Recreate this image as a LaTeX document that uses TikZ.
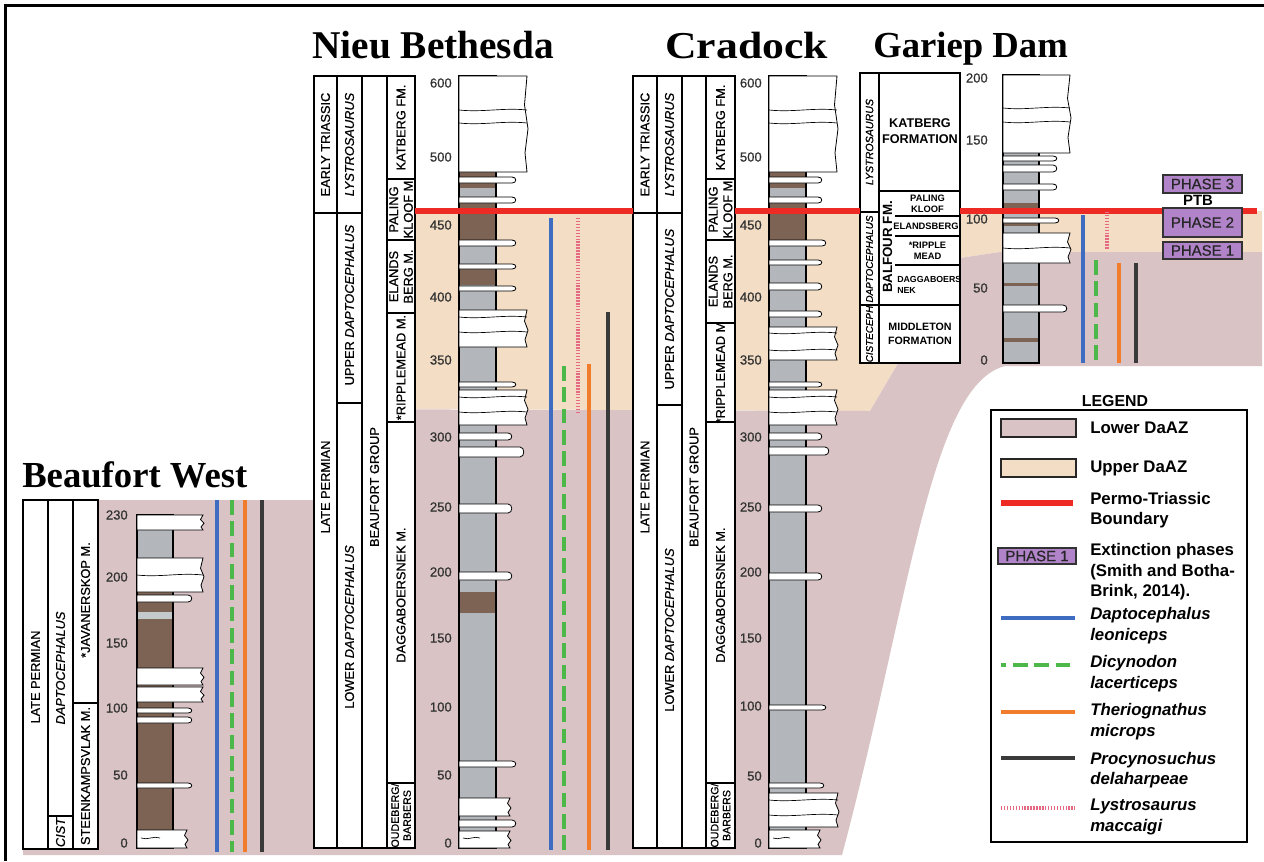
\documentclass[tikz,border=0pt]{standalone}
\usepackage{fontspec}
\setmainfont{Liberation Serif}
\setsansfont{Liberation Sans}
\newfontfamily\labsans{Liberation Sans}[FakeBold=0.8]
\definecolor{lowpink}{HTML}{D9C3C5}
\definecolor{uptan}{HTML}{F3DDC5}
\definecolor{mud}{HTML}{7D6353}
\definecolor{silt}{HTML}{B3B7BB}
\definecolor{lsilt}{HTML}{C4CACC}
\definecolor{ptbred}{HTML}{EE2A24}
\definecolor{tblue}{HTML}{3D6CC0}
\definecolor{tgreen}{HTML}{4DB84A}
\definecolor{torange}{HTML}{F07C2C}
\definecolor{tdark}{HTML}{3A3A3A}
\definecolor{tpink}{HTML}{E36A82}
\definecolor{phase}{HTML}{B184C9}
\newcommand{\thinbed}[4]{\draw[bed] (#1,#2) -- ({#4-5},#2) .. controls (#4,#2) and (#4,#3) .. ({#4-5},#3) -- (#1,#3) -- cycle;}
\newcommand{\thickbed}[4]{\draw[bed] (#1,#2) -- (#4,#2) -- ({#4-2.5},{#2+0.3*(#3-#2)}) -- ({#4+1},{#2+0.55*(#3-#2)}) -- ({#4-2},{#2+0.8*(#3-#2)}) -- (#4,#3) -- (#1,#3) -- cycle;}
\newcommand{\seam}[3]{\draw[seamline] (#1,#3) .. controls ({#1+0.35*(#2-#1)},{#3+2.5}) and ({#1+0.65*(#2-#1)},{#3-2.5}) .. (#2,#3);}
\tikzset{
 lbox/.style={draw=black, line width=0.9pt, fill=white},
 lab/.style={rotate=90, font=\labsans\fontsize{9.6}{11}\selectfont, align=center, inner sep=0pt},
 smlab/.style={lab, font=\labsans\fontsize{8}{9}\selectfont},
 glab/.style={rotate=90, font=\labsans\itshape\fontsize{7.4}{8}\selectfont, inner sep=0pt},
 gbold/.style={font=\sffamily\bfseries\fontsize{7}{8.3}\selectfont, align=center, inner sep=0pt},
 num/.style={anchor=east, font=\labsans\fontsize{9.8}{10}\selectfont, text=black!80, inner sep=0pt},
 ttl/.style={font=\rmfamily\bfseries\fontsize{28.5}{30}\selectfont, inner sep=0pt, anchor=base west},
 logcol/.style={fill=silt, draw=black, line width=0.9pt},
 bed/.style={fill=white, draw=black, line width=0.6pt},
 seamline/.style={draw=black, line width=0.5pt},
 taxa/.style={line width=2.6pt},
 dap/.style={taxa, tblue},
 dic/.style={taxa, tgreen, dash pattern=on 11pt off 5pt},
 the/.style={taxa, torange},
 pro/.style={taxa, tdark},
 lys/.style={line width=2.4pt, tpink, dash pattern=on 1.1pt off 1.1pt},
 ptb/.style={ptbred, line width=3.8pt},
 phasebox/.style={draw=black!80, fill=phase, line width=0.9pt, font=\labsans\fontsize{11.2}{12}\selectfont, inner sep=0pt, text=black!85},
 legtxt/.style={anchor=west, align=left, font=\sffamily\bfseries\fontsize{12.6}{15.4}\selectfont, inner sep=0pt},
}
\begin{document}
\begin{tikzpicture}[x=0.75pt,y=-0.75pt]
\useasboundingbox (0,0) rectangle (1264,861);
% ---------- zone bands ----------
\fill[uptan] (415,211) -- (1262,211) -- (1262,252) -- (1000,252) -- (960,258) -- (870,411) -- (415,409) -- cycle;
\fill[lowpink] (23,500) -- (313,500) -- (313,409) -- (870,411) -- (960,258) -- (1000,252) -- (1262,252) -- (1262,366) -- (1005,366) .. controls (930,385) and (910,600) .. (842,855) -- (23,855) -- cycle;
% ---------- Beaufort West labels ----------
\draw[lbox] (23,500) rectangle (48,849);
\draw[lbox] (48,500) rectangle (73,816);
\draw[lbox] (48,816) rectangle (73,849);
\draw[lbox] (73,500) rectangle (98,703);
\draw[lbox] (73,703) rectangle (98,849);
\node[lab] (bwA) at (35.5,677) {LATE PERMIAN};
\node[lab] (bwB) at (60.5,668) {\itshape DAPTOCEPHALUS};
\node[lab] (bwC) at (60.5,832.5) {\itshape CIST};
\node[lab] (bwD) at (85.5,600) {*JAVANERSKOP M.};
\node[lab] (bwE) at (85.5,776) {STEENKAMPSVLAK M.};
% ---------- Nieu Bethesda labels ----------
\draw[lbox] (314,76) rectangle (337,213);
\draw[lbox] (314,213) rectangle (337,848);
\draw[lbox] (337,76) rectangle (362,213);
\draw[lbox] (337,213) rectangle (362,403);
\draw[lbox] (337,403) rectangle (362,848);
\draw[lbox] (362,76) rectangle (387,848);
\draw[lbox] (387,76) rectangle (415,179);
\draw[lbox] (387,179) rectangle (415,240);
\draw[lbox] (387,240) rectangle (415,313);
\draw[lbox] (387,313) rectangle (415,422);
\draw[lbox] (387,422) rectangle (415,783);
\draw[lbox] (387,783) rectangle (415,848);
\node[lab] (nbA) at (325.5,144.5) {EARLY TRIASSIC};
\node[lab] (nbB) at (325.5,487) {LATE PERMIAN};
\node[lab] (nbC) at (349.5,144.5) {\itshape LYSTROSAURUS};
\node[lab] (nbD) at (349.5,305) {UPPER \textit{DAPTOCEPHALUS}};
\node[lab] (nbE) at (349.5,627) {LOWER \textit{DAPTOCEPHALUS}};
\node[lab] (nbF) at (374.5,487) {BEAUFORT GROUP};
\node[lab] (nbG) at (401,127.5) {KATBERG FM.};
\node[lab] (nbH) at (401,209.5) {PALING\\KLOOF M};
\node[lab] (nbI) at (401,276.5) {ELANDS\\BERG M.};
\node[lab] (nbJ) at (401,367.5) {*RIPPLEMEAD M.};
\node[lab] (nbK) at (401,595) {DAGGABOERSNEK M.};
\node[smlab] (nbL) at (401,815.5) {OUDEBERG/\\BARBERS};
% ---------- Cradock labels ----------
\draw[lbox] (633,76) rectangle (657,213);
\draw[lbox] (633,213) rectangle (657,848);
\draw[lbox] (657,76) rectangle (682,213);
\draw[lbox] (657,213) rectangle (682,405);
\draw[lbox] (657,405) rectangle (682,848);
\draw[lbox] (682,76) rectangle (706,848);
\draw[lbox] (706,76) rectangle (735,179);
\draw[lbox] (706,179) rectangle (735,240);
\draw[lbox] (706,240) rectangle (735,323);
\draw[lbox] (706,323) rectangle (735,422);
\draw[lbox] (706,422) rectangle (735,783);
\draw[lbox] (706,783) rectangle (735,848);
\node[lab] (crA) at (645,144.5) {EARLY TRIASSIC};
\node[lab] (crB) at (645,487) {LATE PERMIAN};
\node[lab] (crC) at (669.5,144.5) {\itshape LYSTROSAURUS};
\node[lab] (crD) at (669.5,309) {UPPER \textit{DAPTOCEPHALUS}};
\node[lab] (crE) at (669.5,630) {LOWER \textit{DAPTOCEPHALUS}};
\node[lab] (crF) at (694,487) {BEAUFORT GROUP};
\node[lab] (crG) at (720.5,127.5) {KATBERG FM.};
\node[lab] (crH) at (720.5,209.5) {PALING\\KLOOF M};
\node[lab] (crI) at (720.5,281.5) {ELANDS\\BERG M.};
\node[lab] (crJ) at (720.5,372.5) {*RIPPLEMEAD M};
\node[lab] (crK) at (720.5,595) {DAGGABOERSNEK M.};
\node[smlab] (crL) at (720.5,815.5) {OUDEBERG/\\BARBERS};
% ---------- Gariep Dam labels ----------
\draw[lbox] (860,73) rectangle (879,212);
\draw[lbox] (860,212) rectangle (879,305);
\draw[lbox] (860,305) rectangle (879,363);
\draw[lbox] (879,73) rectangle (960,191);
\draw[lbox] (879,191) rectangle (960,305);
\draw[lbox] (879,305) rectangle (960,363);
\draw[line width=0.9pt] (895,216) -- (960,216);
\draw[line width=0.9pt] (895,236) -- (960,236);
\draw[line width=0.9pt] (895,265) -- (960,265);
\node[glab, font=\labsans\itshape\fontsize{8}{9}\selectfont] (gdA) at (869.5,142) {LYSTROSAURUS};
\node[glab] (gdB) at (869.5,259) {DAPTOCEPHALUS};
\node[glab] (gdC) at (869.5,334) {CISTECEPH};
\node[align=center, inner sep=0pt, font=\sffamily\bfseries\fontsize{9.5}{12}\selectfont] (gdD) at (920,131) {KATBERG\\FORMATION};
\node[rotate=90, inner sep=0pt, font=\sffamily\bfseries\fontsize{10}{11}\selectfont] (gdE) at (887.5,247) {BALFOUR FM.};
\node[gbold] (gdF) at (927.5,203.5) {PALING\\KLOOF};
\node[gbold] (gdG) at (926,226.5) {ELANDSBERG};
\node[gbold] (gdH) at (927.5,250.5) {*RIPPLE\\MEAD};
\node[gbold, anchor=west, align=left, font=\sffamily\bfseries\fontsize{6.6}{8.3}\selectfont] (gdI) at (897,285) {DAGGABOERS\\NEK};
\node[align=center, inner sep=0pt, font=\sffamily\bfseries\fontsize{8}{10.5}\selectfont] (gdJ) at (920,334) {MIDDLETON\\FORMATION};
% ---------- Beaufort West log ----------
\fill[mud] (137,515) rectangle (173,848);
\fill[silt] (137,530) rectangle (173,558);
\fill[lsilt] (137,612) rectangle (173,619);
\draw[line width=0.9pt] (137,515) rectangle (173,848);
\thickbed{137}{515}{530}{203}
\thickbed{137}{558}{592}{203}
\seam{137}{203}{575}
\thinbed{137}{595}{602}{193}
\thickbed{137}{668}{685}{203}
\thickbed{137}{687}{702}{203}
\thinbed{137}{708}{713}{193}
\thinbed{137}{717}{723}{193}
\thinbed{137}{783}{788}{193}
\thickbed{137}{830}{848}{187}
\seam{141}{160}{838}
% ---------- Nieu Bethesda log ----------
\draw[logcol] (459,76) rectangle (496,848);
\fill[mud] (459,172) rectangle (496,188);
\fill[mud] (459,203) rectangle (496,242);
\fill[mud] (459,269) rectangle (496,285);
\fill[mud] (459,592) rectangle (496,613);
\draw[line width=0.9pt] (459,76) rectangle (496,848);
\thickbed{459}{76}{172}{527}
\seam{459}{527}{110}
\seam{459}{527}{123}
\thinbed{459}{177}{183}{517}
\thinbed{459}{197}{203}{517}
\thinbed{459}{240}{246}{517}
\thinbed{459}{264}{269}{517}
\thinbed{459}{286}{291}{517}
\thickbed{459}{310}{347}{527}
\seam{459}{527}{317}
\seam{459}{527}{332}
\thinbed{459}{382}{387}{517}
\thickbed{459}{390}{425}{527}
\seam{459}{527}{397}
\seam{459}{527}{412}
\thinbed{459}{433}{440}{513}
\thinbed{459}{447}{457}{525}
\thinbed{459}{504}{513}{513}
\thinbed{459}{572}{580}{513}
\thinbed{459}{761}{767}{517}
\thickbed{459}{798}{816}{510}
\thinbed{459}{820}{827}{517}
\thickbed{459}{831}{848}{510}
\seam{463}{480}{838}
% ---------- Cradock log ----------
\draw[logcol] (769,76) rectangle (806,848);
\fill[mud] (769,172) rectangle (806,188);
\fill[mud] (769,203) rectangle (806,242);
\draw[line width=0.9pt] (769,76) rectangle (806,848);
\thickbed{769}{76}{172}{837}
\seam{769}{837}{110}
\seam{769}{837}{123}
\thinbed{769}{177}{183}{823}
\thinbed{769}{197}{203}{823}
\thinbed{769}{240}{246}{827}
\thinbed{769}{260}{265}{823}
\thinbed{769}{283}{290}{823}
\thinbed{769}{311}{317}{823}
\thickbed{769}{327}{360}{837}
\seam{769}{837}{333}
\seam{769}{837}{350}
\thinbed{769}{382}{387}{823}
\thickbed{769}{390}{425}{837}
\seam{769}{837}{397}
\seam{769}{837}{412}
\thinbed{769}{433}{440}{823}
\thinbed{769}{447}{455}{830}
\thinbed{769}{505}{512}{823}
\thinbed{769}{573}{580}{823}
\thinbed{769}{705}{710}{827}
\thinbed{769}{783}{788}{825}
\thickbed{769}{793}{827}{838}
\seam{769}{838}{800}
\seam{769}{838}{815}
\thickbed{769}{830}{848}{820}
\seam{773}{790}{838}
% ---------- Gariep Dam log ----------
\draw[logcol] (1003,75) rectangle (1039,363);
\fill[mud] (1003,203) rectangle (1039,208);
\fill[mud] (1003,223) rectangle (1039,226);
\fill[mud] (1003,283) rectangle (1039,286);
\fill[mud] (1003,338) rectangle (1039,342);
\draw[line width=0.9pt] (1003,75) rectangle (1039,363);
\thickbed{1003}{75}{153}{1070}
\seam{1003}{1070}{108}
\seam{1003}{1070}{122}
\thinbed{1003}{156}{161}{1058}
\thinbed{1003}{165}{172}{1058}
\thinbed{1003}{184}{190}{1058}
\thinbed{1003}{218}{223}{1060}
\thickbed{1003}{233}{263}{1070}
\seam{1003}{1070}{248}
\thinbed{1003}{305}{312}{1068}
% ---------- Permo-Triassic boundary ----------
\draw[ptb] (415,211) -- (633,211);
\draw[ptb] (735,211) -- (860,211);
\draw[ptb] (960,211) -- (1257,211);
% ---------- taxon ranges ----------
\draw[dap] (217,500) -- (217,852);
\draw[dic] (232,500) -- (232,852);
\draw[the] (245,500) -- (245,852);
\draw[pro] (262,500) -- (262,852);
\draw[dap] (551,218) -- (551,850);
\draw[lys] (578,218) -- (578,412);
\draw[dic] (564,366) -- (564,850);
\draw[the] (589,364) -- (589,850);
\draw[pro] (608,312) -- (608,850);
\draw[dap] (1083,215) -- (1083,363);
\draw[dic] (1096,260) -- (1096,363);
\draw[lys] (1107,212) -- (1107,250);
\draw[the] (1119,263) -- (1119,363);
\draw[pro] (1136,263) -- (1136,363);
% ---------- scales ----------
\foreach \v/\y [count=\i] in {230/515,200/577,150/643,100/708,50/775,0/843}
  \node[num] (bwn\i) at (128,\y) {\v};
\foreach \v/\y [count=\i] in {600/83,500/157,450/225,400/297,350/360,300/437,250/507,200/572,150/638,100/707,50/775,0/843}
  \node[num] (nbn\i) at (452,\y) {\v};
\foreach \v/\y [count=\i] in {600/83,500/157,450/225,400/297,350/360,300/437,250/507,200/572,150/638,100/706,50/776,0/843}
  \node[num] (crn\i) at (762,\y) {\v};
\foreach \v/\y [count=\i] in {200/78,150/140,100/219,50/288,0/360}
  \node[num] (gdn\i) at (988,\y) {\v};
% ---------- phases ----------
\node[phasebox, minimum width=59.25pt, minimum height=13.5pt] (ph3) at (1202.5,184) {PHASE 3};
\node[inner sep=0pt, font=\sffamily\bfseries\fontsize{11.2}{12}\selectfont] (ptbl) at (1198,200) {PTB};
\node[phasebox, minimum width=59.25pt, minimum height=21.75pt] (ph2) at (1202.5,222.5) {PHASE 2};
\node[phasebox, minimum width=59.25pt, minimum height=12.75pt] (ph1) at (1202.5,250.5) {PHASE 1};
% ---------- legend ----------
\node[inner sep=0pt, font=\sffamily\bfseries\fontsize{11.9}{12}\selectfont] (legt) at (1115,401) {LEGEND};
\draw[line width=1.3pt] (991,410) rectangle (1247,842);
\draw[fill=lowpink, draw=black!85, line width=1pt] (1001,419) rectangle (1076,437);
\node[legtxt] (l1) at (1090,428) {Lower DaAZ};
\draw[fill=uptan, draw=black!85, line width=1pt] (1001,459) rectangle (1076,477);
\node[legtxt] (l2) at (1090,468) {Upper DaAZ};
\draw[ptb] (1001,503) -- (1073,503);
\node[legtxt] (l3) at (1090,510) {Permo-Triassic\\Boundary};
\node[phasebox, minimum width=58.5pt, minimum height=12pt] (lph) at (1037,556) {PHASE 1};
\node[legtxt] (l4) at (1090,572) {Extinction phases\\(Smith and Botha-\\Brink, 2014).};
\draw[dap] (1001,618) -- (1075,618);
\node[legtxt] (l5) at (1090,625.5) {\itshape Daptocephalus\\\itshape leoniceps};
\draw[dic, dash phase=7pt] (1001,665) -- (1075,665);
\node[legtxt] (l6) at (1090,673.5) {\itshape Dicynodon\\\itshape lacerticeps};
\draw[the] (1001,712) -- (1075,712);
\node[legtxt] (l7) at (1090,721.5) {\itshape Theriognathus\\\itshape microps};
\draw[pro] (1001,758) -- (1075,758);
\node[legtxt] (l8) at (1090,770) {\itshape Procynosuchus\\\itshape delaharpeae};
\draw[lys] (1001,808) -- (1075,808);
\node[legtxt] (l9) at (1090,817) {\itshape Lystrosaurus\\\itshape maccaigi};
% ---------- titles ----------
\node[ttl, font=\rmfamily\bfseries\fontsize{27.5}{30}\selectfont] (t1) at (22,487) {Beaufort West};
\node[ttl, font=\rmfamily\bfseries\fontsize{29.5}{30}\selectfont] (t2) at (312,58) {Nieu Bethesda};
\node[ttl] (t3) at (665,58) {\scalebox{1.15}[1]{Cradock}};
\node[ttl, font=\rmfamily\bfseries\fontsize{27.5}{30}\selectfont] (t4) at (873,57) {Gariep Dam};
% ---------- frame ----------
\draw[line width=2.6pt] (5.5,861) -- (5.5,5.5) -- (1264,5.5);
\end{tikzpicture}
\end{document}
